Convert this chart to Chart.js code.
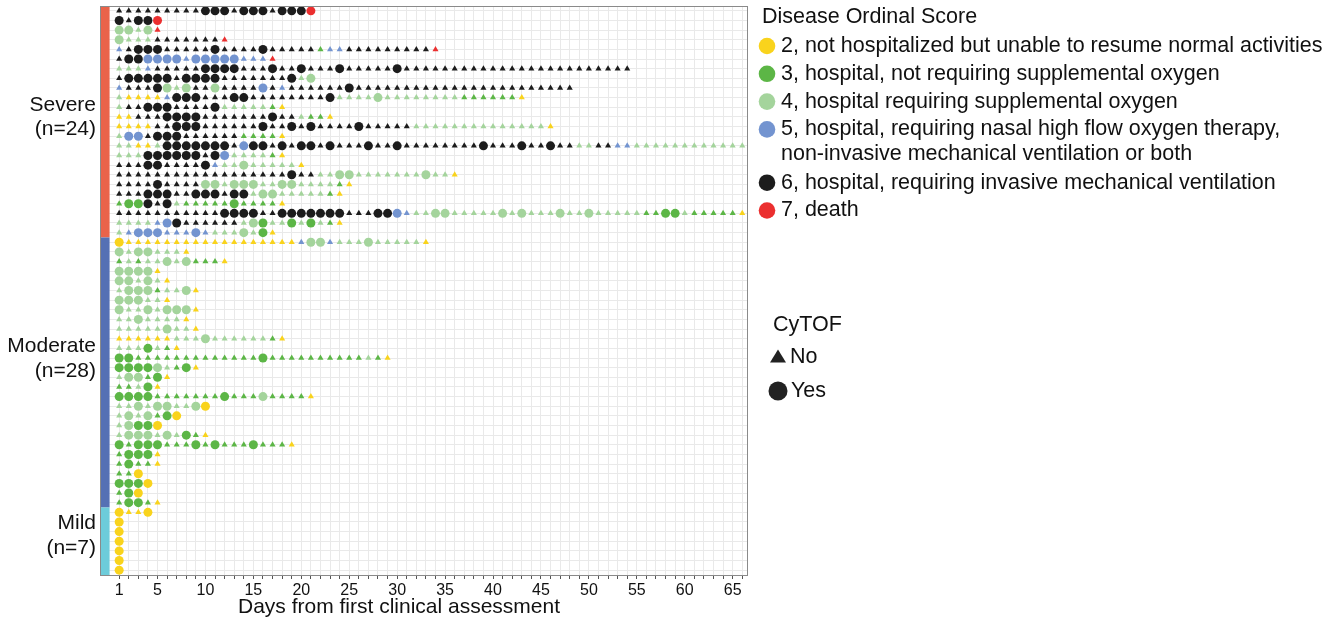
<!DOCTYPE html>
<html>
<head>
<meta charset="utf-8">
<script src="https://cdn.jsdelivr.net/npm/chart.js@4.4.1/dist/chart.umd.min.js"></script>
<style>
	html, body { margin: 0; padding: 0; background: #fff; }
	#wrap { width: 1340px; height: 623px; }
</style>
</head>
<body>
<div id="wrap"><canvas id="courseChart" width="1340" height="623"></canvas></div>
<script>
//DATA - one string per patient, one letter per day starting at day 1
// y=2 g=3 l=4 b=5 k=6 r=7 (score), UPPER CASE = CyTOF sample taken
const severeRows = [
	"kkkkkkkkkKKKkKKKkKKKR",
	"KkKKR",
	"LLlLr",
	"Llllkkkkkkkr",
	"bkKKKkkkkkKkkkkKkkkkkgbbkkkkkkkkkr",
	"kKKBBBBbBBBBBbbbr",
	"lllbkkkkkKKKKkkkKkkKkkkKkkkkkKkkkkkkkkkkkkkkkkkkkkkkkk",
	"kKKKKKkKKKKkkkkkkkKlL",
	"bkkkKLlLkkLkkkkBkbkkkkkkKkkkkkkkkkkkkkkkkkkkkkkk",
	"lyyyybKKKkkkKKkkkkkkkkKllllLllllllllggggggy",
	"lkkKKKkkkkKlllllgy",
	"yykkkKKKKkkkkkkkKkklggy",
	"yyyykkKKKkkkkkkKkkKkKkkkkKkkkkklllllllllllllly",
	"lBBkKKKkkkkkkggggy",
	"llyylKKKKKKKkBKKkKkKKkKkkkKkkKkkkkkkkkKkkkKkkKkkllkkbbllllllllllll",
	"lllKKKKKKkKBllllgy",
	"kkkKKkkkkKbllLllllly",
	"kkkkkkkkkkkkkkkkkkKkkllLLlllllllLlly",
	"kkkkKkkkkLLlLLLllLLllllgy",
	"kkkKKKkkKKKkKKlLLlllllgy",
	"gGGKkKlgggggGggggy",
	"kkkkkkkkkkkKKKKkkKKKKKKKkkkKKBbllLLlllllLlLlllLllLlllllggGGlgggggy",
	"llllbBKkkkkkklLGllGlGlgy",
	"lbBBBbbbBblllLlGy"
];
const moderateRows = [
	"YyyyyyyyyyyyyyyyyyybLLblllLllllly",
	"LlLLllly",
	"glgllLlLgggy",
	"LLLLy",
	"LLlLly",
	"lLLLgllLy",
	"LLLlly",
	"LllLlLLLy",
	"llLlllly",
	"lllllLlly",
	"yyyyyylllLllllllgy",
	"lllGlgy",
	"GGgggggggggggggGgggggggggglgy",
	"GGGGLlgGy",
	"lLLgGy",
	"gglGy",
	"GGGGgggggggGgggLggggy",
	"llLlLLllLY",
	"lLlLgGY",
	"lLGGY",
	"lLLLlLlGgy",
	"GgGGGgggGgGgggGgggy",
	"gGGGy",
	"gGggy",
	"ggY",
	"GGGY",
	"gGY",
	"gGGgy"
];
const mildRows = ["YyyY", "Y", "Y", "Y", "Y", "Y", "Y"];

const groupNames = ["Severe", "Moderate", "Mild"];
const scoreCodes = ["y", "g", "l", "b", "k", "r"];
const scoreValues = [2, 3, 4, 5, 6, 7];
const scoreLabels = [
	["2, not hospitalized but unable to resume normal activities"],
	["3, hospital, not requiring supplemental oxygen"],
	["4, hospital requiring supplemental oxygen"],
	["5, hospital, requiring nasal high flow oxygen therapy,", "non-invasive mechanical ventilation or both"],
	["6, hospital, requiring invasive mechanical ventilation"],
	["7, death"]
];
const cytofLabels = ["No", "Yes"];
const xTickDays = [1, 5, 10, 15, 20, 25, 30, 35, 40, 45, 50, 55, 60, 65];
const xTitle = "Days from first clinical assessment";

//STYLES
const scoreColors = {
	2: "#F9D31C",
	3: "#5CB646",
	4: "#A4D49C",
	5: "#7394D0",
	6: "#1C1C1C",
	7: "#EB2F2F"
};
const groupColors = ["#E9634A", "#5570B4", "#6DCCDA"];
const FONT = '"Liberation Sans", Arial, Helvetica, sans-serif';
Chart.defaults.font.family = FONT;

//BUILD POINTS
const groups = [severeRows, moderateRows, mildRows];
const points = [];
const groupSpans = [];
let rowNo = 0;
groups.forEach((rows, g) => {
	const first = rowNo + 1;
	rows.forEach((str) => {
		rowNo++;
		for (let i = 0; i < str.length; i++) {
			const ch = str[i];
			const idx = scoreCodes.indexOf(ch.toLowerCase());
			if (idx < 0) continue;
			points.push({
				x: i + 1,
				y: rowNo,
				s: scoreValues[idx],
				c: ch !== ch.toLowerCase()
			});
		}
	});
	groupSpans.push({ first: first, last: rowNo, n: rows.length });
});
const totalRows = rowNo;
const lastDay = Math.max(...groups.flat().map((s) => s.length));

//SIDE BAR + PANEL BORDER + LABELS + LEGENDS
const decorPlugin = {
	id: "decor",
	beforeDatasetsDraw(chart) {
		const { ctx, chartArea, scales } = chart;
		const xs = scales.x, ys = scales.y;
		ctx.save();
		groupSpans.forEach((gs, i) => {
			const top = ys.getPixelForValue(gs.first - 0.5);
			const bot = ys.getPixelForValue(gs.last + 0.5);
			const right = xs.getPixelForValue(0);
			ctx.fillStyle = groupColors[i];
			ctx.fillRect(chartArea.left, top, right - chartArea.left, bot - top);
		});
		ctx.restore();
	},
	afterDraw(chart) {
		const { ctx, chartArea, scales } = chart;
		const ys = scales.y;
		ctx.save();
		//panel border
		ctx.strokeStyle = "#8a8a8a";
		ctx.lineWidth = 1;
		ctx.strokeRect(chartArea.left + 0.5, chartArea.top + 0.5,
			chartArea.right - chartArea.left - 1, chartArea.bottom - chartArea.top);

		//axis title
		ctx.fillStyle = "#111";
		ctx.font = "21px " + FONT;
		ctx.textAlign = "center";
		ctx.textBaseline = "middle";
		ctx.fillText(xTitle, 399, 607);

		//group labels
		const labelShift = [-17, -26, -18];
		ctx.textAlign = "right";
		groupSpans.forEach((gs, i) => {
			const mid = (ys.getPixelForValue(gs.first - 0.5) + ys.getPixelForValue(gs.last + 0.5)) / 2;
			ctx.fillText(groupNames[i], 96, mid + labelShift[i]);
			ctx.fillText("(n=" + gs.n + ")", 96, mid + labelShift[i] + 24.5);
		});

		//score legend
		ctx.textAlign = "left";
		ctx.font = "21.5px " + FONT;
		ctx.fillText("Disease Ordinal Score", 762, 17);
		let ly = 46;
		scoreLabels.forEach((lines, i) => {
			ctx.fillStyle = scoreColors[scoreValues[i]];
			ctx.beginPath();
			ctx.arc(767, ly, 8.3, 0, Math.PI * 2);
			ctx.fill();
			ctx.fillStyle = "#111";
			lines.forEach((t, j) => ctx.fillText(t, 781, ly + j * 24.5));
			ly += 27.8 + (lines.length - 1) * 25.5;
		});

		//cytof legend
		ctx.fillText("CyTOF", 773, 325);
		ctx.fillStyle = "#222";
		ctx.beginPath();
		ctx.moveTo(778, 349.5);
		ctx.lineTo(786, 362.5);
		ctx.lineTo(770, 362.5);
		ctx.closePath();
		ctx.fill();
		ctx.beginPath();
		ctx.arc(778, 391, 9.5, 0, Math.PI * 2);
		ctx.fill();
		ctx.fillStyle = "#111";
		ctx.fillText(cytofLabels[0], 790, 357);
		ctx.fillText(cytofLabels[1], 791, 391);
		ctx.restore();
	}
};

//CHART
const allDays = [];
for (let d = 1; d <= lastDay; d++) allDays.push(d);
const allRows = [];
for (let r = 1; r <= totalRows; r++) allRows.push(r);

new Chart(document.getElementById("courseChart"), {
	type: "scatter",
	data: {
		datasets: [
			{
				data: points,
				pointStyle: (c) => (c.raw && c.raw.c ? "circle" : "triangle"),
				pointRadius: (c) => (c.raw && c.raw.c ? 4.5 : 3.5),
				pointBackgroundColor: (c) => (c.raw ? scoreColors[c.raw.s] : "#000"),
				pointBorderWidth: 0,
				pointHoverRadius: (c) => (c.raw && c.raw.c ? 4.5 : 3.5)
			}
		]
	},
	options: {
		responsive: false,
		animation: false,
		events: [],
		layout: { padding: { left: 100, right: 592, top: 6, bottom: 0 } },
		plugins: { legend: { display: false }, tooltip: { enabled: false } },
		scales: {
			x: {
				type: "linear",
				min: -1,
				max: lastDay + 0.6,
				afterBuildTicks: (scale) => {
					scale.ticks = allDays.map((d) => ({ value: d }));
				},
				afterFit: (scale) => {
					scale.height = 48;
				},
				ticks: {
					autoSkip: false,
					maxRotation: 0,
					padding: 2,
					color: "#111",
					font: { size: 16 },
					callback: (v) => (xTickDays.indexOf(v) >= 0 ? String(v) : "")
				},
				grid: { color: "#e9e9e9", tickColor: "#555", tickLength: 4 },
				border: { display: false }
			},
			y: {
				type: "linear",
				reverse: true,
				min: 0.5,
				max: totalRows + 0.5,
				afterBuildTicks: (scale) => {
					scale.ticks = allRows.map((r) => ({ value: r }));
				},
				afterFit: (scale) => {
					scale.width = 0;
				},
				ticks: { display: false },
				grid: { color: "#e9e9e9", drawTicks: false },
				border: { display: false }
			}
		}
	},
	plugins: [decorPlugin]
});
</script>
</body>
</html>
